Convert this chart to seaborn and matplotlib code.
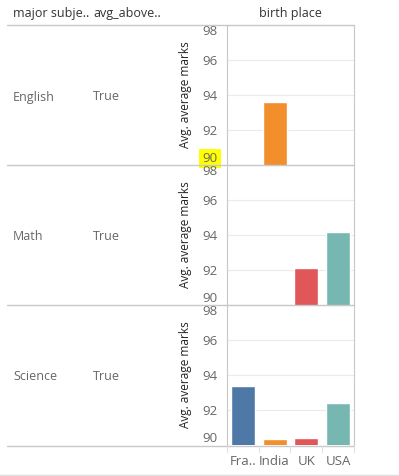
import numpy as np
import pandas as pd
import matplotlib
matplotlib.use('Agg')
import matplotlib.pyplot as plt
from matplotlib.lines import Line2D
import seaborn as sns

# dados
paises = ['France', 'India', 'UK', 'USA']
rotulos_x = ['Fra..', 'India', 'UK', 'USA']
materias = ['English', 'Math', 'Science']
acima_media = ['True', 'True', 'True']
notas_english = [np.nan, 93.6, np.nan, np.nan]
notas_math = [np.nan, np.nan, 92.1, 94.15]
notas_science = [93.35, 90.35, 90.4, 92.4]
cores = ['#4E79A7', '#F28E2B', '#E15759', '#76B7B2']

sns.set_style('white')
plt.rcParams['font.family'] = ['Open Sans', 'DejaVu Sans']

W, H = 399, 476
fig = plt.figure(figsize=(W / 100, H / 100), dpi=100)

def fx(px):
    return px / W

def fy(py):
    return 1 - py / H

linha = '#c8c8c8'
cinza_txt = '#666666'

# cabeçalho
fig.text(fx(13), fy(14), 'major subje..', fontsize=9, color='#333333', va='center')
fig.text(fx(93), fy(14), 'avg_above..', fontsize=9, color='#333333', va='center')
fig.text(fx(290), fy(13), 'birth place', fontsize=9, color='#333333', va='center', ha='center')

topos = [25, 165, 305]
altura = 140
todas = [notas_english, notas_math, notas_science]

for i, (mat, acima, notas) in enumerate(zip(materias, acima_media, todas)):
    t = topos[i]
    ax = fig.add_axes([fx(227), fy(t + altura), fx(354) - fx(227), altura / H])
    df = pd.DataFrame({'pais': paises, 'nota': notas})
    df = df.dropna()
    sns.barplot(data=df, x='pais', y='nota', hue='pais', order=paises,
                hue_order=paises, palette=cores, width=0.75, legend=False,
                saturation=1, ax=ax)
    ax.set_xlim(-0.5, 3.5)
    ax.set_ylim(90, 98)
    ax.set_yticks([90, 92, 94, 96, 98])
    ax.set_yticklabels(['90', '92', '94', '96', '98'])
    ax.yaxis.grid(True, color='#ebebeb', linewidth=0.8)
    ax.set_axisbelow(True)
    ax.tick_params(axis='y', length=0, labelsize=9.5, labelcolor=cinza_txt, pad=7)
    labs = ax.get_yticklabels()
    labs[0].set_va('bottom')
    labs[-1].set_va('top')
    if i == 0:
        labs[0].set_bbox(dict(facecolor='#ffff00', edgecolor='none',
                              boxstyle='square,pad=0.25'))
    ax.set_ylabel('Avg. average marks', fontsize=8.5, color='#222222', labelpad=7)
    ax.set_xlabel('')
    for s in ['top', 'bottom']:
        ax.spines[s].set_visible(False)
    ax.spines['left'].set_color(linha)
    ax.spines['right'].set_color(linha)
    if i < 2:
        ax.set_xticks([])
    else:
        ax.set_xticks(range(4))
        ax.set_xticklabels(rotulos_x)
        ax.tick_params(axis='x', length=0, labelsize=9.5, labelcolor=cinza_txt, pad=7)
    fig.text(fx(13), fy(t + 72), mat, fontsize=9, color=cinza_txt, va='center')
    fig.text(fx(93), fy(t + 72), acima, fontsize=9, color=cinza_txt, va='center')

# linhas de separação
for yy in [25, 165, 305, 446]:
    fig.add_artist(Line2D([fx(7), fx(354)], [fy(yy), fy(yy)], color=linha, linewidth=1))
fig.add_artist(Line2D([fx(0), fx(399)], [fy(475), fy(475)], color='#dddddd', linewidth=1))
for xx in [227, 259, 290, 322, 354]:
    fig.add_artist(Line2D([fx(xx), fx(xx)], [fy(446), fy(452)], color='#e0e0e0', linewidth=0.8))

fig.savefig('out.png', dpi=100)
